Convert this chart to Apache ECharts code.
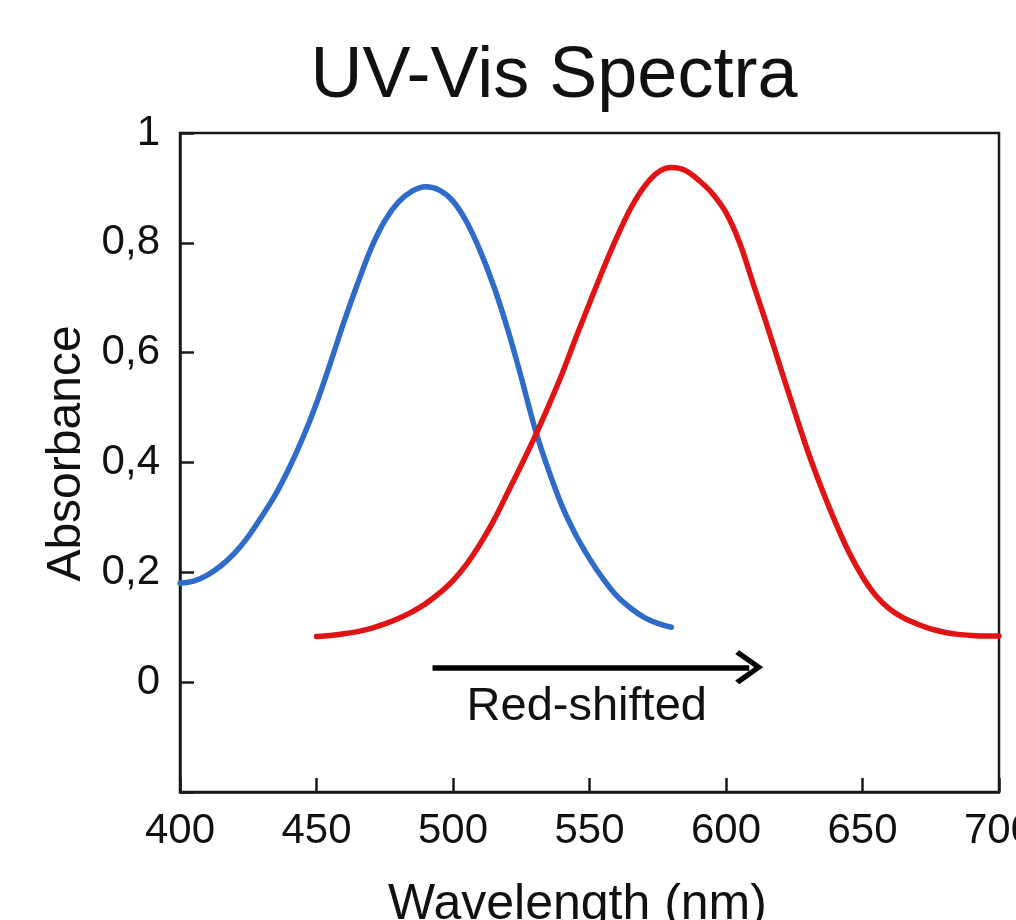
<!DOCTYPE html>
<html>
<head>
<meta charset="utf-8">
<script src="https://cdn.jsdelivr.net/npm/echarts@6/dist/echarts.min.js"></script>
<style>
html,body{margin:0;padding:0;background:#ffffff;}
#chart{width:1016px;height:920px;}
</style>
</head>
<body>
<div id="chart"></div>
<script>
// ---- data ----
const titleText = 'UV-Vis Spectra';
const xAxisName = 'Wavelength (nm)';
const yAxisName = 'Absorbance';

const blueWavelengths = [400,405,410,415,420,425,430,435,440,445,450,455,460,465,470,475,480,485,490,495,500,505,510,515,520,525,530,535,540,545,550,555,560,565,570,575,580];
const blueAbsorbance  = [0.180,0.184,0.195,0.212,0.235,0.265,0.302,0.342,0.390,0.445,0.508,0.580,0.655,0.725,0.790,0.840,0.874,0.894,0.902,0.896,0.876,0.838,0.785,0.720,0.643,0.555,0.462,0.386,0.320,0.268,0.225,0.188,0.157,0.135,0.118,0.107,0.100];

const redWavelengths = [450,455,460,465,470,475,480,485,490,495,500,505,510,515,520,525,530,535,540,545,550,555,560,565,570,575,580,585,590,595,600,605,610,615,620,625,630,635,640,645,650,655,660,665,670,675,680,685,690,695,700];
const redAbsorbance  = [0.083,0.085,0.088,0.092,0.098,0.106,0.116,0.128,0.143,0.162,0.185,0.215,0.252,0.295,0.345,0.395,0.447,0.503,0.562,0.627,0.690,0.752,0.810,0.862,0.902,0.928,0.937,0.932,0.914,0.890,0.855,0.800,0.725,0.650,0.572,0.495,0.420,0.353,0.292,0.237,0.192,0.157,0.133,0.117,0.106,0.097,0.091,0.087,0.085,0.084,0.084];

const arrowStart = [492.5, 0.027];
const arrowEnd   = [608.5, 0.027];
const annotationText = 'Red-shifted';
const annotationPos = [549, -0.045];

const xTicks = {min: 400, max: 700, interval: 50};
const yTicks = {min: -0.2, max: 1, interval: 0.2};

function zip(xs, ys){ return xs.map((x,i)=>[x, ys[i]]); }

const FONT = "'Liberation Sans', Arial, Helvetica, sans-serif";
const chart = echarts.init(document.getElementById('chart'), null, {renderer:'canvas'});

const option = {
  backgroundColor: '#ffffff',
  animation: false,
  title: {
    text: titleText,
    left: 549,
    top: 36,
    textAlign: 'center',
    textStyle: {fontFamily: FONT, fontSize: 72, fontWeight: 'normal', color: '#111'}
  },
  grid: {
    left: 180, right: 17, top: 133, bottom: 128,
    containLabel: false,
    outerBoundsMode: 'none',
    show: true, borderColor: '#1a1a1a', borderWidth: 2.5, backgroundColor: 'transparent'
  },
  xAxis: {
    type: 'value',
    min: xTicks.min, max: xTicks.max, interval: xTicks.interval,
    name: xAxisName,
    nameLocation: 'middle',
    nameGap: 88,
    nameTextStyle: {fontFamily: FONT, fontSize: 50, color: '#111', padding: [0, 24, 0, 0]},
    axisLine: {show: true, onZero: false, lineStyle: {color: '#1a1a1a', width: 2.5}},
    axisTick: {show: true, inside: true, length: 14, lineStyle: {color: '#1a1a1a', width: 2.5}},
    axisLabel: {fontFamily: FONT, fontSize: 42, color: '#111', margin: 18},
    splitLine: {show: false}
  },
  yAxis: {
    type: 'value',
    min: yTicks.min, max: yTicks.max, interval: yTicks.interval,
    name: yAxisName,
    nameLocation: 'middle',
    nameRotate: 90,
    nameGap: 84,
    nameTextStyle: {fontFamily: FONT, fontSize: 48, color: '#111', padding: [0, 0, 0, 18]},
    axisLine: {show: true, onZero: false, lineStyle: {color: '#1a1a1a', width: 2.5}},
    axisTick: {show: true, inside: true, length: 14, lineStyle: {color: '#1a1a1a', width: 2.5}},
    axisLabel: {
      fontFamily: FONT, fontSize: 42, color: '#111', margin: 20,
      formatter: function(v){
        if (v < -0.01) return '';
        const r = Math.round(v*10)/10;
        return String(r).replace('.', ',');
      }
    },
    splitLine: {show: false}
  },
  series: [
    {
      name: 'Blue',
      type: 'line',
      data: zip(blueWavelengths, blueAbsorbance),
      smooth: 0.3,
      showSymbol: false,
      lineStyle: {color: '#2f6bc9', width: 5.5, cap: 'round'},
      itemStyle: {color: '#2f6bc9'},
      z: 3
    },
    {
      name: 'Red',
      type: 'line',
      data: zip(redWavelengths, redAbsorbance),
      smooth: 0.3,
      showSymbol: false,
      lineStyle: {color: '#e01414', width: 5.5, cap: 'round'},
      itemStyle: {color: '#e01414'},
      z: 4
    },
    {
      name: 'Annotation',
      type: 'line',
      data: [],
      silent: true,
      markLine: {
        silent: true,
        animation: false,
        symbol: ['none', 'path://M18,0 L36,24 L32,28 L18,9 L4,28 L0,24 Z'],
        symbolSize: [34, 28],
        lineStyle: {color: '#000', width: 5.5, type: 'solid'},
        itemStyle: {color: '#000'},
        label: {show: false},
        data: [[{coord: arrowStart}, {coord: arrowEnd}]]
      },
      markPoint: {
        silent: true,
        symbol: 'circle',
        symbolSize: 0,
        itemStyle: {color: 'transparent'},
        label: {
          show: true,
          position: 'inside',
          formatter: annotationText,
          fontFamily: FONT, fontSize: 47, color: '#111'
        },
        data: [{coord: annotationPos, value: annotationText}]
      }
    }
  ]
};
chart.setOption(option);
</script>
</body>
</html>
